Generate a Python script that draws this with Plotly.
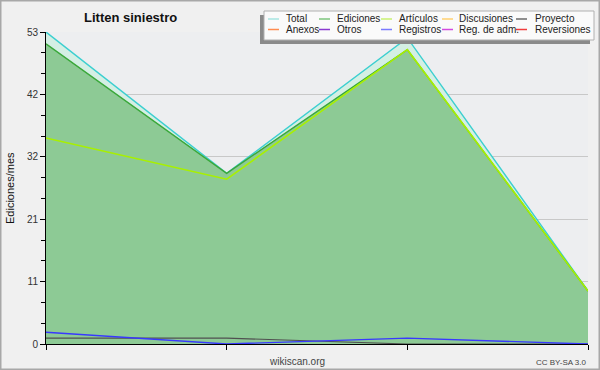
import plotly.graph_objects as go

# ---- data ----
periodos = [0, 1, 2, 3]
total = [53, 29, 52, 9]
ediciones = [51, 29, 50, 9]
articulos = [35, 28, 50, 9]
registros = [2, 0, 1, 0]
proyecto = [1, 1, 0, 0]

y_max = 53
y_tick_vals = [0, 10.6, 21.2, 31.8, 42.4, 53]
y_tick_text = ["0", "11", "21", "32", "42", "53"]

legend_names = [["Total", "Ediciones", "Artículos", "Discusiones", "Proyecto"],
                ["Anexos", "Otros", "Registros", "Reg. de adm.", "Reversiones"]]
legend_colors = [["#a6e4e0", "#7cc47c", "#c8f070", "#ffd070", "#6a6a6a"],
                 ["#ff8c50", "#8a3ad0", "#7a7aff", "#d24ae0", "#f03c3c"]]

W, H = 600, 370
L, R, T, B = 46, 12, 32, 26
PW, PH = W - L - R, H - T - B

def px(x):
    return (x - L) / PW

def py(y):
    return (H - B - y) / PH

FONT = "Liberation Sans, Arial, sans-serif"

fig = go.Figure()

fig.add_trace(go.Scatter(x=periodos, y=total, mode="lines", fill="tozeroy",
                         fillcolor="#d4efe4", line=dict(color="#3ccfd0", width=1.4),
                         name="Total", showlegend=False))
fig.add_trace(go.Scatter(x=periodos, y=ediciones, mode="lines", fill="tozeroy",
                         fillcolor="rgba(131,197,138,0.88)", line=dict(color="#3aa83a", width=1.4),
                         name="Ediciones", showlegend=False))
fig.add_trace(go.Scatter(x=periodos, y=articulos, mode="lines",
                         line=dict(color="#a8f000", width=1.6),
                         name="Artículos", showlegend=False))
fig.add_trace(go.Scatter(x=periodos, y=proyecto, mode="lines",
                         line=dict(color="#505050", width=1.2),
                         name="Proyecto", showlegend=False))
fig.add_trace(go.Scatter(x=periodos, y=registros, mode="lines",
                         line=dict(color="#3838ff", width=1.4),
                         name="Registros", showlegend=False))

shapes = []
annotations = []

# outer border
shapes.append(dict(type="rect", xref="paper", yref="paper",
                   x0=px(0.75), x1=px(W - 0.75), y0=py(H - 0.75), y1=py(0.75),
                   line=dict(color="#a8a8a8", width=1.5), layer="below"))

# legend shadow and box
shapes.append(dict(type="rect", xref="paper", yref="paper",
                   x0=px(260), x1=px(590), y0=py(44), y1=py(15),
                   fillcolor="#8a8a8a", line=dict(width=0), layer="above"))
shapes.append(dict(type="rect", xref="paper", yref="paper",
                   x0=px(264), x1=px(594), y0=py(40), y1=py(11),
                   fillcolor="#fafafa", line=dict(color="#b0b0b0", width=1), layer="above"))

col_sym = [268, 319, 381, 442, 516]
col_txt = [284, 335, 397, 457, 533]
row_y = [19, 29.5]
for r in range(2):
    for c in range(5):
        yy = row_y[r]
        shapes.append(dict(type="line", xref="paper", yref="paper",
                           x0=px(col_sym[c]), x1=px(col_sym[c] + 11),
                           y0=py(yy), y1=py(yy),
                           line=dict(color=legend_colors[r][c], width=1.5), layer="above"))
        annotations.append(dict(text=legend_names[r][c], xref="paper", yref="paper",
                                x=px(col_txt[c]), y=py(yy), xanchor="left", yanchor="middle",
                                showarrow=False, font=dict(family=FONT, size=10, color="#222")))

# title
annotations.append(dict(text="<b>Litten siniestro</b>", xref="paper", yref="paper",
                        x=px(130), y=py(18), xanchor="center", yanchor="middle",
                        showarrow=False, font=dict(family=FONT, size=13, color="#111")))
# y title
annotations.append(dict(text="Ediciones/mes", xref="paper", yref="paper",
                        x=px(10), y=py(188), xanchor="center", yanchor="middle",
                        textangle=-90, showarrow=False,
                        font=dict(family=FONT, size=11, color="#111")))
annotations.append(dict(text="wikiscan.org", xref="paper", yref="paper",
                        x=px(297), y=py(361), xanchor="center", yanchor="middle",
                        showarrow=False, font=dict(family=FONT, size=10, color="#444")))
annotations.append(dict(text="CC BY-SA 3.0", xref="paper", yref="paper",
                        x=px(589), y=py(362), xanchor="right", yanchor="middle",
                        showarrow=False, font=dict(family=FONT, size=8, color="#444")))

fig.update_layout(
    width=W, height=H,
    margin=dict(l=L, r=R, t=T, b=B, pad=0),
    paper_bgcolor="#f0f0f0",
    plot_bgcolor="#edeef0",
    showlegend=False,
    hovermode=False,
    shapes=shapes,
    annotations=annotations,
    xaxis=dict(range=[0, 3], tickvals=periodos, ticktext=["", "", "", ""],
               showgrid=False, zeroline=False, showline=True, linecolor="#000",
               linewidth=1, ticks="outside", ticklen=5, tickcolor="#000"),
    yaxis=dict(range=[0, y_max], tickvals=y_tick_vals, ticktext=y_tick_text,
               showgrid=True, gridcolor="#c8c8c8", gridwidth=1, zeroline=False,
               showline=True, linecolor="#000", linewidth=1,
               ticks="outside", ticklen=5, tickcolor="#000",
               tickfont=dict(family=FONT, size=10, color="#333"),
               minor=dict(tick0=0, dtick=y_max / 15, ticks="outside", ticklen=4,
                          tickcolor="#000", showgrid=False)),
)

fig.write_html("out.html", config={"displayModeBar": False},
               post_script="document.body.style.margin='0';document.body.style.padding='0';")
